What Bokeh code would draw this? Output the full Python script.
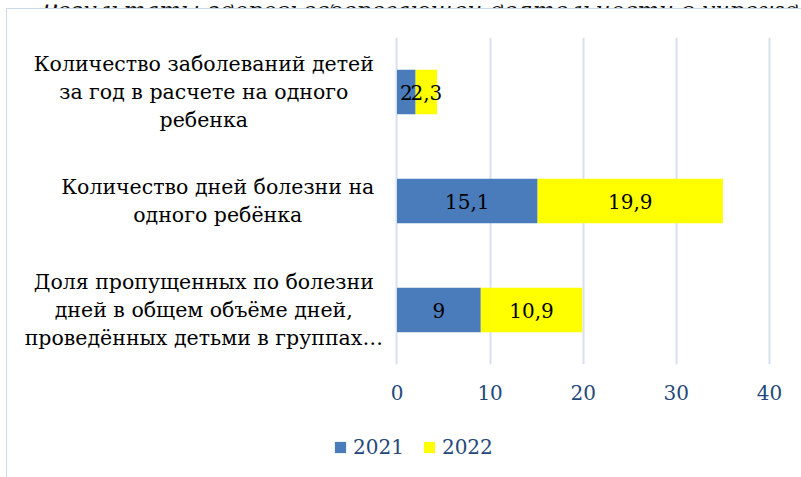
from bokeh.plotting import figure
from bokeh.layouts import column
from bokeh.models import FixedTicker, Legend, LegendItem, ColumnDataSource, FactorRange, Range1d
from bokeh.core.properties import value
from bokeh.embed import file_html
from bokeh.resources import INLINE

# ---- data ----
title_text = "Результаты здоровьесберегающей деятельности в учреждении"
categories = [
    "Количество заболеваний детей\nза год в расчете на одного\nребенка",
    "Количество дней болезни на\nодного ребёнка",
    "Доля пропущенных по болезни\nдней в общем объёме дней,\nпроведённых детьми в группах…",
]
series_names = ["2021", "2022"]
values_2021 = [2, 15.1, 9]
values_2022 = [2.3, 19.9, 10.9]
x_ticks = [0, 10, 20, 30, 40]

# ---- style / layout ----
FONT = "DejaVu Serif"
BLUE = "#4A7BBA"
YELLOW = "#FFFF00"
NAVY = "#25487A"
GRID = "#D6E1F0"
FRAME = "#CCDAEE"
label_centers = [-20.75, -19.25, -20.75]   # x (data units) where each category label block is centred


def fmt(v):
    return f"{v:g}".replace(".", ",")


src = ColumnDataSource(dict(
    cat=categories,
    zero=[0] * len(categories),
    v21=values_2021,
    r22=[a + b for a, b in zip(values_2021, values_2022)],
    mid21=[v / 2 for v in values_2021],
    mid22=[a + b / 2 for a, b in zip(values_2021, values_2022)],
    t21=[fmt(v) for v in values_2021],
    t22=[fmt(v) for v in values_2022],
    lx=label_centers,
))

# ---- strip with the (cut-off) chart title ----
pt = figure(width=801, height=8, x_range=Range1d(0, 801), y_range=Range1d(0, 8),
            output_backend="svg", toolbar_location=None,
            x_axis_location=None, y_axis_location=None, min_border=0)
pt.outline_line_color = None
pt.grid.visible = False
pt.text(x=[41], y=[2.5], text=[title_text], text_align="left", text_baseline="alphabetic",
        text_font=value(FONT), text_font_style="italic", text_font_size="23px",
        text_color="#111111")

# ---- main chart ----
p = figure(
    width=795, height=405,
    y_range=FactorRange(factors=list(reversed(categories))),
    x_range=Range1d(-41.83, 43.55),
    output_backend="svg", toolbar_location=None,
    y_axis_location=None,
    min_border_left=0, min_border_right=0, min_border_top=28, min_border_bottom=50,
)
p.margin = (0, 0, 0, 6)
p.styles = {"border-left": f"1px solid {FRAME}", "border-top": f"1px solid {FRAME}"}
p.outline_line_color = None
p.background_fill_color = "white"
p.border_fill_color = "white"

p.ygrid.visible = False
p.xgrid.ticker = FixedTicker(ticks=x_ticks)
p.xgrid.grid_line_color = GRID
p.xgrid.grid_line_width = 2

p.xaxis.ticker = FixedTicker(ticks=x_ticks)
p.xaxis.axis_line_color = None
p.xaxis.major_tick_line_color = None
p.xaxis.minor_tick_line_color = None
p.xaxis.major_tick_out = 0
p.xaxis.major_tick_in = 0
p.xaxis.major_label_standoff = 20
p.xaxis.major_label_text_font = FONT
p.xaxis.major_label_text_font_size = "20px"
p.xaxis.major_label_text_color = NAVY

r1 = p.hbar(y="cat", left="zero", right="v21", height=0.41, source=src,
            fill_color=BLUE, line_color=None)
r2 = p.hbar(y="cat", left="v21", right="r22", height=0.41, source=src,
            fill_color=YELLOW, line_color=None)

p.text(x="mid21", y="cat", text="t21", source=src, text_align="center",
       text_baseline="middle", text_font=value(FONT), text_font_size="20px",
       text_color="black")
p.text(x="mid22", y="cat", text="t22", source=src, text_align="center",
       text_baseline="middle", text_font=value(FONT), text_font_size="20px",
       text_color="black")

p.text(x="lx", y="cat", text="cat", source=src, text_align="center",
       text_baseline="middle", text_font=value(FONT), text_font_size="20.5px",
       text_color="black", text_line_height=1.15)

# ---- legend strip below the chart ----
pl = figure(width=795, height=64, x_range=Range1d(0, 1), y_range=Range1d(0, 1),
            output_backend="svg", toolbar_location=None,
            x_axis_location=None, y_axis_location=None, min_border=0)
pl.margin = (0, 0, 0, 6)
pl.styles = {"border-left": f"1px solid {FRAME}"}
pl.outline_line_color = None
pl.grid.visible = False
# legend swatches (kept outside the visible range; only their legend glyphs show)
lr1 = pl.hbar(y=[5], left=[5], right=[6], height=0.5, fill_color=BLUE, line_color=None)
lr2 = pl.hbar(y=[5], left=[5], right=[6], height=0.5, fill_color=YELLOW, line_color=None)
legend = Legend(
    items=[LegendItem(label=series_names[0], renderers=[lr1]),
           LegendItem(label=series_names[1], renderers=[lr2])],
    orientation="horizontal", location=(326, 18),
    glyph_width=14, glyph_height=14, label_standoff=6, spacing=18,
    border_line_color=None, background_fill_alpha=0,
    label_text_font=FONT, label_text_font_size="20px", label_text_color=NAVY,
    padding=0, margin=0,
)
pl.add_layout(legend, "center")

open("out.html", "w").write(file_html(column(pt, p, pl, spacing=0), INLINE))
